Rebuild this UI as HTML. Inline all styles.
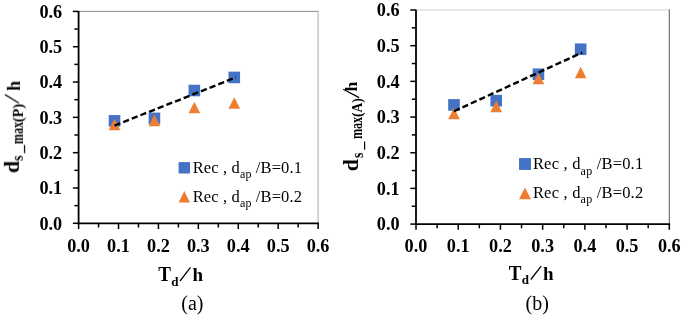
<!DOCTYPE html>
<html><head><meta charset="utf-8"><title>chart</title>
<style>
html,body{margin:0;padding:0;background:#fff;}
svg{display:block;will-change:transform;font-family:"Liberation Serif",serif;fill:#000;}
</style></head><body>
<svg width="685" height="315" viewBox="0 0 685 315">
<rect x="0" y="0" width="685" height="315" fill="#fff"/>
<defs><filter id="gs" x="-5%" y="-5%" width="110%" height="110%" color-interpolation-filters="sRGB"><feColorMatrix type="saturate" values="0"/></filter></defs>
<line x1="78.60" y1="11.40" x2="318.70" y2="11.40" stroke="#6a6a6a" stroke-width="0.8"/>
<line x1="318.10" y1="11.00" x2="318.10" y2="223.30" stroke="#b8b8b8" stroke-width="1.2"/>
<line x1="78.60" y1="11.10" x2="78.60" y2="224.20" stroke="#000" stroke-width="1.8"/>
<line x1="77.70" y1="223.30" x2="319.00" y2="223.30" stroke="#000" stroke-width="1.8"/>
<line x1="72.90" y1="223.30" x2="78.60" y2="223.30" stroke="#000" stroke-width="1.5"/>
<line x1="78.60" y1="223.30" x2="78.60" y2="229.00" stroke="#000" stroke-width="1.5"/>
<line x1="74.40" y1="205.64" x2="78.60" y2="205.64" stroke="#000" stroke-width="1.5"/>
<line x1="98.56" y1="223.30" x2="98.56" y2="227.50" stroke="#000" stroke-width="1.5"/>
<line x1="72.90" y1="187.98" x2="78.60" y2="187.98" stroke="#000" stroke-width="1.5"/>
<line x1="118.52" y1="223.30" x2="118.52" y2="229.00" stroke="#000" stroke-width="1.5"/>
<line x1="74.40" y1="170.32" x2="78.60" y2="170.32" stroke="#000" stroke-width="1.5"/>
<line x1="138.48" y1="223.30" x2="138.48" y2="227.50" stroke="#000" stroke-width="1.5"/>
<line x1="72.90" y1="152.67" x2="78.60" y2="152.67" stroke="#000" stroke-width="1.5"/>
<line x1="158.43" y1="223.30" x2="158.43" y2="229.00" stroke="#000" stroke-width="1.5"/>
<line x1="74.40" y1="135.01" x2="78.60" y2="135.01" stroke="#000" stroke-width="1.5"/>
<line x1="178.39" y1="223.30" x2="178.39" y2="227.50" stroke="#000" stroke-width="1.5"/>
<line x1="72.90" y1="117.35" x2="78.60" y2="117.35" stroke="#000" stroke-width="1.5"/>
<line x1="198.35" y1="223.30" x2="198.35" y2="229.00" stroke="#000" stroke-width="1.5"/>
<line x1="74.40" y1="99.69" x2="78.60" y2="99.69" stroke="#000" stroke-width="1.5"/>
<line x1="218.31" y1="223.30" x2="218.31" y2="227.50" stroke="#000" stroke-width="1.5"/>
<line x1="72.90" y1="82.03" x2="78.60" y2="82.03" stroke="#000" stroke-width="1.5"/>
<line x1="238.27" y1="223.30" x2="238.27" y2="229.00" stroke="#000" stroke-width="1.5"/>
<line x1="74.40" y1="64.38" x2="78.60" y2="64.38" stroke="#000" stroke-width="1.5"/>
<line x1="258.23" y1="223.30" x2="258.23" y2="227.50" stroke="#000" stroke-width="1.5"/>
<line x1="72.90" y1="46.72" x2="78.60" y2="46.72" stroke="#000" stroke-width="1.5"/>
<line x1="278.18" y1="223.30" x2="278.18" y2="229.00" stroke="#000" stroke-width="1.5"/>
<line x1="74.40" y1="29.06" x2="78.60" y2="29.06" stroke="#000" stroke-width="1.5"/>
<line x1="298.14" y1="223.30" x2="298.14" y2="227.50" stroke="#000" stroke-width="1.5"/>
<line x1="72.90" y1="11.40" x2="78.60" y2="11.40" stroke="#000" stroke-width="1.5"/>
<line x1="318.10" y1="223.30" x2="318.10" y2="229.00" stroke="#000" stroke-width="1.5"/>
<rect x="108.73" y="115.08" width="11.60" height="11.60" fill="#4472C4"/>
<rect x="148.64" y="112.61" width="11.60" height="11.60" fill="#4472C4"/>
<rect x="188.56" y="84.71" width="11.60" height="11.60" fill="#4472C4"/>
<rect x="228.48" y="71.64" width="11.60" height="11.60" fill="#4472C4"/>
<polygon points="114.53,118.61 120.33,130.21 108.73,130.21" fill="#ED7D31"/>
<polygon points="154.44,114.55 160.24,126.15 148.64,126.15" fill="#ED7D31"/>
<polygon points="194.36,101.66 200.16,113.26 188.56,113.26" fill="#ED7D31"/>
<polygon points="234.28,97.25 240.08,108.85 228.48,108.85" fill="#ED7D31"/>
<line x1="114.53" y1="125.54" x2="235.87" y2="77.44" stroke="#000" stroke-width="2.4" stroke-dasharray="6.2 3.1"/>
<rect x="178.60" y="162.10" width="11.40" height="11.40" fill="#4472C4"/>
<polygon points="184.30,191.00 190.00,202.40 178.60,202.40" fill="#ED7D31"/>
<line x1="180.0" y1="281.0" x2="190.5" y2="267.3" stroke="#000" stroke-width="1.25"/>
<line x1="416.00" y1="10.00" x2="669.75" y2="10.00" stroke="#cfcfcf" stroke-width="1.1"/>
<line x1="669.30" y1="9.45" x2="669.30" y2="224.10" stroke="#444444" stroke-width="0.9"/>
<line x1="416.00" y1="9.70" x2="416.00" y2="225.00" stroke="#000" stroke-width="1.8"/>
<line x1="415.10" y1="224.10" x2="670.20" y2="224.10" stroke="#000" stroke-width="1.8"/>
<line x1="410.30" y1="224.10" x2="416.00" y2="224.10" stroke="#000" stroke-width="1.5"/>
<line x1="416.00" y1="224.10" x2="416.00" y2="229.80" stroke="#000" stroke-width="1.5"/>
<line x1="411.80" y1="206.26" x2="416.00" y2="206.26" stroke="#000" stroke-width="1.5"/>
<line x1="437.11" y1="224.10" x2="437.11" y2="228.30" stroke="#000" stroke-width="1.5"/>
<line x1="410.30" y1="188.42" x2="416.00" y2="188.42" stroke="#000" stroke-width="1.5"/>
<line x1="458.22" y1="224.10" x2="458.22" y2="229.80" stroke="#000" stroke-width="1.5"/>
<line x1="411.80" y1="170.57" x2="416.00" y2="170.57" stroke="#000" stroke-width="1.5"/>
<line x1="479.32" y1="224.10" x2="479.32" y2="228.30" stroke="#000" stroke-width="1.5"/>
<line x1="410.30" y1="152.73" x2="416.00" y2="152.73" stroke="#000" stroke-width="1.5"/>
<line x1="500.43" y1="224.10" x2="500.43" y2="229.80" stroke="#000" stroke-width="1.5"/>
<line x1="411.80" y1="134.89" x2="416.00" y2="134.89" stroke="#000" stroke-width="1.5"/>
<line x1="521.54" y1="224.10" x2="521.54" y2="228.30" stroke="#000" stroke-width="1.5"/>
<line x1="410.30" y1="117.05" x2="416.00" y2="117.05" stroke="#000" stroke-width="1.5"/>
<line x1="542.65" y1="224.10" x2="542.65" y2="229.80" stroke="#000" stroke-width="1.5"/>
<line x1="411.80" y1="99.21" x2="416.00" y2="99.21" stroke="#000" stroke-width="1.5"/>
<line x1="563.76" y1="224.10" x2="563.76" y2="228.30" stroke="#000" stroke-width="1.5"/>
<line x1="410.30" y1="81.37" x2="416.00" y2="81.37" stroke="#000" stroke-width="1.5"/>
<line x1="584.87" y1="224.10" x2="584.87" y2="229.80" stroke="#000" stroke-width="1.5"/>
<line x1="411.80" y1="63.53" x2="416.00" y2="63.53" stroke="#000" stroke-width="1.5"/>
<line x1="605.98" y1="224.10" x2="605.98" y2="228.30" stroke="#000" stroke-width="1.5"/>
<line x1="410.30" y1="45.68" x2="416.00" y2="45.68" stroke="#000" stroke-width="1.5"/>
<line x1="627.08" y1="224.10" x2="627.08" y2="229.80" stroke="#000" stroke-width="1.5"/>
<line x1="411.80" y1="27.84" x2="416.00" y2="27.84" stroke="#000" stroke-width="1.5"/>
<line x1="648.19" y1="224.10" x2="648.19" y2="228.30" stroke="#000" stroke-width="1.5"/>
<line x1="410.30" y1="10.00" x2="416.00" y2="10.00" stroke="#000" stroke-width="1.5"/>
<line x1="669.30" y1="224.10" x2="669.30" y2="229.80" stroke="#000" stroke-width="1.5"/>
<rect x="448.19" y="99.12" width="11.60" height="11.60" fill="#4472C4"/>
<rect x="490.41" y="94.84" width="11.60" height="11.60" fill="#4472C4"/>
<rect x="532.63" y="68.43" width="11.60" height="11.60" fill="#4472C4"/>
<rect x="574.85" y="43.45" width="11.60" height="11.60" fill="#4472C4"/>
<polygon points="454.00,107.68 459.80,119.28 448.19,119.28" fill="#ED7D31"/>
<polygon points="496.21,100.55 502.01,112.14 490.41,112.14" fill="#ED7D31"/>
<polygon points="538.43,72.71 544.23,84.31 532.63,84.31" fill="#ED7D31"/>
<polygon points="580.64,66.65 586.44,78.25 574.85,78.25" fill="#ED7D31"/>
<line x1="454.00" y1="111.27" x2="582.33" y2="52.47" stroke="#000" stroke-width="2.4" stroke-dasharray="6.2 3.1"/>
<rect x="519.05" y="158.05" width="11.90" height="11.90" fill="#4472C4"/>
<polygon points="525.00,187.45 530.95,199.35 519.05,199.35" fill="#ED7D31"/>
<line x1="530.8" y1="279.5" x2="541.2" y2="266.1" stroke="#000" stroke-width="1.25"/>
<g filter="url(#gs)">
<text x="62.20" y="229.60" text-anchor="end" font-size="19.5" font-weight="bold" textLength="22.8" lengthAdjust="spacingAndGlyphs">0.0</text>
<text x="78.60" y="251.60" text-anchor="middle" font-size="19.5" font-weight="bold" textLength="22.8" lengthAdjust="spacingAndGlyphs">0.0</text>
<text x="62.20" y="194.28" text-anchor="end" font-size="19.5" font-weight="bold" textLength="22.8" lengthAdjust="spacingAndGlyphs">0.1</text>
<text x="118.52" y="251.60" text-anchor="middle" font-size="19.5" font-weight="bold" textLength="22.8" lengthAdjust="spacingAndGlyphs">0.1</text>
<text x="62.20" y="158.97" text-anchor="end" font-size="19.5" font-weight="bold" textLength="22.8" lengthAdjust="spacingAndGlyphs">0.2</text>
<text x="158.43" y="251.60" text-anchor="middle" font-size="19.5" font-weight="bold" textLength="22.8" lengthAdjust="spacingAndGlyphs">0.2</text>
<text x="62.20" y="123.65" text-anchor="end" font-size="19.5" font-weight="bold" textLength="22.8" lengthAdjust="spacingAndGlyphs">0.3</text>
<text x="198.35" y="251.60" text-anchor="middle" font-size="19.5" font-weight="bold" textLength="22.8" lengthAdjust="spacingAndGlyphs">0.3</text>
<text x="62.20" y="88.33" text-anchor="end" font-size="19.5" font-weight="bold" textLength="22.8" lengthAdjust="spacingAndGlyphs">0.4</text>
<text x="238.27" y="251.60" text-anchor="middle" font-size="19.5" font-weight="bold" textLength="22.8" lengthAdjust="spacingAndGlyphs">0.4</text>
<text x="62.20" y="53.02" text-anchor="end" font-size="19.5" font-weight="bold" textLength="22.8" lengthAdjust="spacingAndGlyphs">0.5</text>
<text x="278.18" y="251.60" text-anchor="middle" font-size="19.5" font-weight="bold" textLength="22.8" lengthAdjust="spacingAndGlyphs">0.5</text>
<text x="62.20" y="17.70" text-anchor="end" font-size="19.5" font-weight="bold" textLength="22.8" lengthAdjust="spacingAndGlyphs">0.6</text>
<text x="318.10" y="251.60" text-anchor="middle" font-size="19.5" font-weight="bold" textLength="22.8" lengthAdjust="spacingAndGlyphs">0.6</text>
<text x="192.70" y="172.90" font-size="16.5" textLength="109.3" lengthAdjust="spacing">Rec , d<tspan font-size="12" dy="5.5">ap</tspan><tspan dy="-5.5"> /B=0.1</tspan></text>
<text x="192.70" y="201.50" font-size="16.5" textLength="109.3" lengthAdjust="spacing">Rec , d<tspan font-size="12" dy="5.5">ap</tspan><tspan dy="-5.5"> /B=0.2</tspan></text>
<text x="158.30" y="281.00" font-size="20" font-weight="bold" textLength="12.7" lengthAdjust="spacingAndGlyphs">T</text>
<text x="171.20" y="285.70" font-size="13" font-weight="bold">d</text>
<text x="192.40" y="281.30" font-size="19" font-weight="bold">h</text>
<text x="192.40" y="310.40" font-size="20" text-anchor="middle">(a)</text>
<g transform="translate(19.90,175.60) rotate(-90)" font-weight="bold"><text x="2.4" y="-1.0" font-size="22">d</text><text x="14.8" y="3.0" font-size="16" textLength="5.4" lengthAdjust="spacingAndGlyphs">s</text><text x="22.4" y="3.0" font-size="16" >_</text><text x="31.6" y="3.0" font-size="16" textLength="22.1" lengthAdjust="spacingAndGlyphs">max</text><text x="53.6" y="2.6" font-size="14" textLength="18.3" lengthAdjust="spacingAndGlyphs">(P)</text><line x1="72.5" y1="-1.0" x2="81.0" y2="-14.8" stroke="#000" stroke-width="1.25"/><text x="84.8" y="-0.2" font-size="18">h</text></g>
<text x="399.60" y="230.40" text-anchor="end" font-size="19.5" font-weight="bold" textLength="22.8" lengthAdjust="spacingAndGlyphs">0.0</text>
<text x="416.00" y="252.40" text-anchor="middle" font-size="19.5" font-weight="bold" textLength="22.8" lengthAdjust="spacingAndGlyphs">0.0</text>
<text x="399.60" y="194.72" text-anchor="end" font-size="19.5" font-weight="bold" textLength="22.8" lengthAdjust="spacingAndGlyphs">0.1</text>
<text x="458.22" y="252.40" text-anchor="middle" font-size="19.5" font-weight="bold" textLength="22.8" lengthAdjust="spacingAndGlyphs">0.1</text>
<text x="399.60" y="159.03" text-anchor="end" font-size="19.5" font-weight="bold" textLength="22.8" lengthAdjust="spacingAndGlyphs">0.2</text>
<text x="500.43" y="252.40" text-anchor="middle" font-size="19.5" font-weight="bold" textLength="22.8" lengthAdjust="spacingAndGlyphs">0.2</text>
<text x="399.60" y="123.35" text-anchor="end" font-size="19.5" font-weight="bold" textLength="22.8" lengthAdjust="spacingAndGlyphs">0.3</text>
<text x="542.65" y="252.40" text-anchor="middle" font-size="19.5" font-weight="bold" textLength="22.8" lengthAdjust="spacingAndGlyphs">0.3</text>
<text x="399.60" y="87.67" text-anchor="end" font-size="19.5" font-weight="bold" textLength="22.8" lengthAdjust="spacingAndGlyphs">0.4</text>
<text x="584.87" y="252.40" text-anchor="middle" font-size="19.5" font-weight="bold" textLength="22.8" lengthAdjust="spacingAndGlyphs">0.4</text>
<text x="399.60" y="51.98" text-anchor="end" font-size="19.5" font-weight="bold" textLength="22.8" lengthAdjust="spacingAndGlyphs">0.5</text>
<text x="627.08" y="252.40" text-anchor="middle" font-size="19.5" font-weight="bold" textLength="22.8" lengthAdjust="spacingAndGlyphs">0.5</text>
<text x="399.60" y="16.30" text-anchor="end" font-size="19.5" font-weight="bold" textLength="22.8" lengthAdjust="spacingAndGlyphs">0.6</text>
<text x="669.30" y="252.40" text-anchor="middle" font-size="19.5" font-weight="bold" textLength="22.8" lengthAdjust="spacingAndGlyphs">0.6</text>
<text x="532.90" y="169.40" font-size="16.5" textLength="110.3" lengthAdjust="spacing">Rec , d<tspan font-size="12" dy="5.5">ap</tspan><tspan dy="-5.5"> /B=0.1</tspan></text>
<text x="532.90" y="197.90" font-size="16.5" textLength="110.3" lengthAdjust="spacing">Rec , d<tspan font-size="12" dy="5.5">ap</tspan><tspan dy="-5.5"> /B=0.2</tspan></text>
<text x="508.75" y="279.60" font-size="20" font-weight="bold" textLength="12.7" lengthAdjust="spacingAndGlyphs">T</text>
<text x="521.65" y="284.30" font-size="13" font-weight="bold">d</text>
<text x="542.90" y="279.60" font-size="19" font-weight="bold">h</text>
<text x="537.20" y="310.40" font-size="20" text-anchor="middle">(b)</text>
<g transform="translate(357.80,172.50) rotate(-90)" font-weight="bold"><text x="1.3" y="0" font-size="22">d</text><text x="14.5" y="5.2" font-size="16" textLength="5.4" lengthAdjust="spacingAndGlyphs">s</text><text x="23.0" y="5.2" font-size="16" >_</text><text x="33.4" y="4.2" font-size="16" textLength="22.3" lengthAdjust="spacingAndGlyphs">max</text><text x="55.4" y="4.6" font-size="14" textLength="19.0" lengthAdjust="spacingAndGlyphs">(A)</text><line x1="74.9" y1="1.3" x2="83.2" y2="-14.6" stroke="#000" stroke-width="1.25"/><text x="81.0" y="-0.4" font-size="17.5">h</text></g>
</g>
</svg>
</body></html>
